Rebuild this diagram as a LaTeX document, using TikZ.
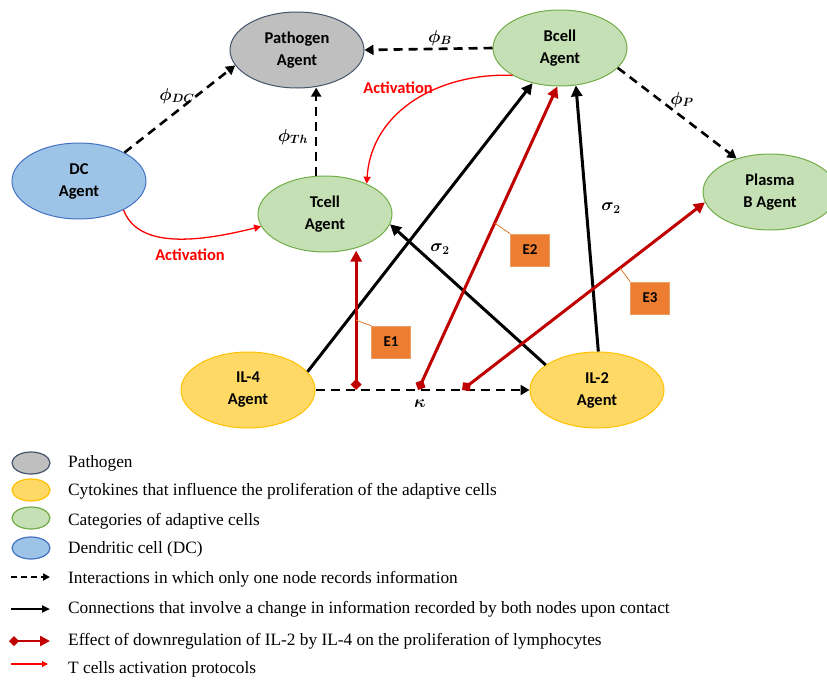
\documentclass[tikz,border=0pt]{standalone}
\usepackage{amsmath,bm}
\usepackage[no-math]{fontspec}
\setmainfont{Liberation Serif}
\newfontfamily\calfont{Carlito}
\usetikzlibrary{arrows.meta,shapes.geometric,calc}
\definecolor{pathfill}{HTML}{BFBFBF}
\definecolor{pathdraw}{HTML}{44546A}
\definecolor{grfill}{HTML}{C5E0B4}
\definecolor{grdraw}{HTML}{70AD47}
\definecolor{yefill}{HTML}{FFD966}
\definecolor{yedraw}{HTML}{FFC000}
\definecolor{blfill}{HTML}{9DC3E6}
\definecolor{bldraw}{HTML}{4472C4}
\definecolor{dred}{HTML}{C00000}
\definecolor{bred}{HTML}{FF0000}
\definecolor{orbox}{HTML}{ED7D31}
\definecolor{orline}{HTML}{E07828}
\begin{document}
\begin{tikzpicture}[x=1pt,y=-1pt,
  agent/.style={ellipse, line width=1pt, minimum width=134pt, minimum height=76pt, inner sep=0pt, align=center, font=\calfont\bfseries\fontsize{16.5}{22}\selectfont},
  pathnode/.style={agent, draw=pathdraw, fill=pathfill},
  grnode/.style={agent, draw=grdraw, fill=grfill},
  yenode/.style={agent, draw=yedraw, fill=yefill},
  blnode/.style={agent, draw=bldraw, fill=blfill},
  dash1/.style={line width=2.6pt, dash pattern=on 9pt off 6pt, -{Triangle[length=9pt,width=10pt]}},
  solid1/.style={line width=3pt, -{Triangle[length=11pt,width=11pt]}},
  redthick/.style={dred, line width=3pt, {Diamond[length=11pt,width=11pt]}-{Triangle[length=11pt,width=11pt]}},
  redthin/.style={bred, line width=1.3pt, -{Triangle[length=7pt,width=7pt]}},
  ebox/.style={fill=orbox, draw=orline!70!white, line width=0.6pt, minimum width=39pt, minimum height=32pt, inner sep=0pt, font=\calfont\bfseries\fontsize{15}{18}\selectfont},
  callout/.style={orline, line width=0.8pt},
  lbl/.style={font=\fontsize{18}{20}\selectfont\boldmath, inner sep=1pt},
  actlbl/.style={text=bred, font=\calfont\bfseries\fontsize{16.5}{20}\selectfont},
  legtext/.style={anchor=west, inner sep=0pt, font=\fontsize{17.3}{19}\selectfont},
  legell/.style={ellipse, line width=1.2pt, minimum width=38pt, minimum height=22pt, inner sep=0pt}
]
\useasboundingbox (0,0) rectangle (827,680);

% nodes
\node[pathnode] (Path) at (297,50) {Pathogen\\Agent};
\node[grnode] (Bcell) at (560,48) {Bcell\\Agent};
\node[blnode] (DC) at (79,181) {DC\\Agent};
\node[grnode] (Tcell) at (325,214) {Tcell\\Agent};
\node[grnode] (Plasma) at (770,192) {Plasma\\B Agent};
\node[yenode] (IL4) at (248,390) {IL-4\\Agent};
\node[yenode] (IL2) at (597,390) {IL-2\\Agent};

% dashed interactions
\draw[dash1] (DC.32) -- (Path.194);
\draw[dash1] (Bcell.west) -- (Path.east);
\draw[dash1] (Tcell.103) -- (Tcell.103 |- Path.290);
\draw[dash1] (Bcell.341) -- (Plasma.135);
\draw[dash1] (IL4.east) -- (IL2.west);
\node[lbl] (lDC) at (177,96) {$\bm{\phi}_{\bm{DC}}$};
\node[lbl] (lB) at (440,38) {$\bm{\phi}_{\bm{B}}$};
\node[lbl] (lTh) at (293,137) {$\bm{\phi}_{\bm{Th}}$};
\node[lbl] (lP) at (682,100) {$\bm{\phi}_{\bm{P}}$};
\node[lbl] (lk) at (420,404) {$\bm{\kappa}$};

% solid connections
\draw[solid1] (IL4.17) -- (Bcell.232);
\draw[solid1] (IL2.154) -- (Tcell.351);
\draw[solid1] (IL2.88) -- (Bcell.293);
\node[lbl] (ls1) at (440,249) {$\bm{\sigma}_{\bm{2}}$};
\node[lbl] (ls2) at (611,208) {$\bm{\sigma}_{\bm{2}}$};

% red downregulation effects
\coordinate (k1) at ($(IL4.east)!0.19!(IL2.west)$);
\coordinate (k2) at ($(IL4.east)!0.48!(IL2.west)$);
\coordinate (k3) at ($(IL4.east)!0.685!(IL2.west)$);
\draw[redthick] (k1) -- (k1 |- Tcell.300) coordinate[pos=0.5] (c1);
\draw[redthick] (k2) -- (Bcell.266) coordinate[pos=0.55] (c2);
\draw[redthick] (k3) -- (Plasma.189) coordinate[pos=0.65] (c3);

\node[ebox] (E1) at (391,342) {E1};
\node[ebox] (E2) at (530,250) {E2};
\node[ebox] (E3) at (650,298) {E3};
\draw[callout] (c1) -- (E1.north west);
\draw[callout] (c2) -- (E2.north west);
\draw[callout] (c3) -- (E3.north west);

% activation
\draw[redthin] (DC.327) .. controls +(15,40) and +(-60,15) .. (Tcell.191);
\node[actlbl] (act1) at (190,255) {Activation};
\draw[redthin] (Bcell.210) .. controls +(-70,-3) and +(5,-75) .. (Tcell.36);
\node[actlbl] (act2) at (398,88) {Activation};

% legend
\node[legell, draw=pathdraw, fill=pathfill] (L1) at (31,463) {};
\node[legell, draw=yedraw, fill=yefill] (L2) at (31,490) {};
\node[legell, draw=grdraw, fill=grfill] (L3) at (31,518) {};
\node[legell, draw=bldraw, fill=blfill] (L4) at (31,548) {};
\node[legtext] (T1) at (68,463) {Pathogen};
\node[legtext] (T2) at (68,491) {Cytokines that influence the proliferation of the adaptive cells};
\node[legtext] (T3) at (68,521) {Categories of adaptive cells};
\node[legtext] (T4) at (68,549) {Dendritic cell (DC)};
\node[legtext] (T5) at (68,579) {Interactions in which only one node records information};
\node[legtext] (T6) at (68,609) {Connections that involve a change in information recorded by both nodes upon contact};
\node[legtext] (T7) at (68,641) {Effect of downregulation of IL-2 by IL-4 on the proliferation of lymphocytes};
\node[legtext] (T8) at (68,669) {T cells activation protocols};
\coordinate (a5) at (11,577); \coordinate (b5) at (50,577);
\coordinate (a6) at (11,609); \coordinate (b6) at (50,609);
\coordinate (a7) at (9,641); \coordinate (b7) at (50,641);
\coordinate (a8) at (11,664); \coordinate (b8) at (48,664);
\draw[line width=2.2pt, dash pattern=on 6pt off 4pt, -{Triangle[length=7pt,width=7pt]}] (a5) -- (b5);
\draw[line width=2.2pt, -{Triangle[length=8pt,width=7pt]}] (a6) -- (b6);
\draw[dred, line width=2.6pt, {Diamond[length=10pt,width=10pt]}-{Triangle[length=10pt,width=10pt]}] (a7) -- (b7);
\draw[bred, line width=1.2pt, -{Triangle[length=6pt,width=6pt]}] (a8) -- (b8);
\end{tikzpicture}
\end{document}
